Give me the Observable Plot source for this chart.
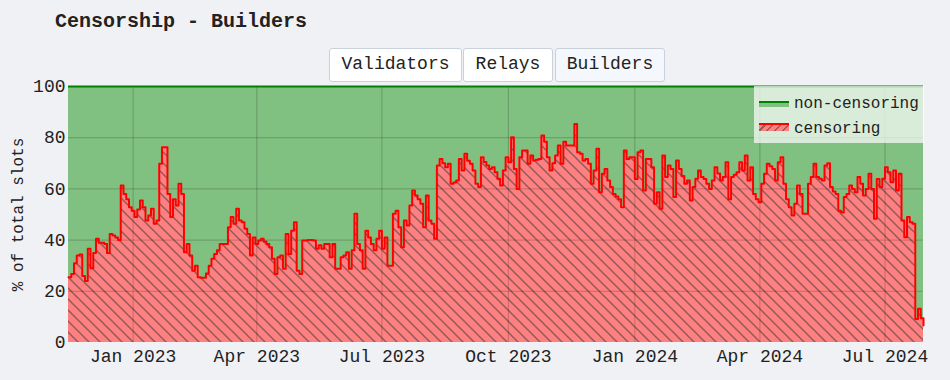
<!DOCTYPE html>
<html>
<head>
<meta charset="utf-8">
<script src="https://cdn.jsdelivr.net/npm/d3@7"></script>
<script src="https://cdn.jsdelivr.net/npm/@observablehq/plot@0.6"></script>
<style>
  html, body { margin: 0; padding: 0; background: #f0f1f5; }
  #wrap { position: relative; width: 950px; height: 380px; font-family: "Liberation Mono", monospace; color: #222; }
  #chart { position: absolute; left: 0; top: 0; }
  #title { position: absolute; left: 55px; top: 12px; font-size: 20px; line-height: 20px; font-weight: bold; white-space: nowrap; }
  .btn { position: absolute; top: 48px; height: 34px; box-sizing: border-box; border: 1px solid #c9d1dc; border-radius: 3px; background: #fff; font-size: 18px; display: flex; align-items: center; justify-content: center; white-space: nowrap; padding-bottom: 2px; }
  .btn.active { background: #f4f7fb; }
  #legend { position: absolute; left: 754px; top: 86px; width: 170px; height: 57px; background: rgba(255,255,255,0.7); font-size: 16px; }
  .lrow { position: absolute; left: 0; height: 20px; width: 170px; }
  .sw { position: absolute; left: 5px; width: 30px; }
  .lt { position: absolute; left: 40px; line-height: 20px; top: 0; white-space: nowrap; }
</style>
</head>
<body>
<div id="wrap">
  <div id="chart"></div>
  <div id="title"></div>
  <div id="buttons"></div>
  <div id="legend"></div>
</div>
<script>
// ---- data ----
const titleText = "Censorship - Builders";
const buttonLabels = ["Validators", "Relays", "Builders"];
const activeButton = "Builders";
const seriesNames = ["non-censoring", "censoring"];
const yLabel = "% of total slots";
const startDate = "2022-11-15";
const stepDays = 2;
// censoring share (% of total slots), one value every 2 days
const censoring = [
  25.5,26.8,31,34,34.4,26,24,36.6,29,35,40.5,39,39,38.5,35,42.4,41.8,41,40,61.3,
  58,56,52.8,51.5,49,52,55.5,52.8,47.7,49.6,52.2,46.4,47.7,69.8,76.3,76.3,58,49,56,53.5,
  62,58,35.3,38.5,34,28,30,25.5,25.3,25.3,27,30,32.7,34.6,36,38.5,38.5,38.5,45,49,
  46.4,52.2,47.7,47,44.4,42.4,34,41,38.5,39.8,40.5,39.5,38.5,37.2,32.7,26.8,33.3,34,28.8,42.4,
  34.6,43.7,47,28,26.8,39.8,39.8,40,40,39.8,36.6,38,36.6,38.5,38.5,33.3,38.5,28.8,28.8,33.3,
  34,35.3,28.8,36,50.3,38.5,36,28.8,43.7,41,38.5,36,40.5,43.7,36.6,41,30,30,50.3,51.5,
  45,37.2,47.7,45.7,53.5,59.4,57.4,56,54.2,45,57.4,47.7,46.4,40.5,69.1,71.7,70,68.5,69.8,62,
  62.5,63.3,71.7,67.2,73.7,71,69.8,67.2,62,60.7,72.4,70.5,69.1,67.8,68.5,66.5,64,61.3,67.2,72.4,
  70.4,80.2,67.8,60,72.4,75,75,69.8,73,71.1,71.4,71.7,80.9,78.4,72.4,67.2,70,73,77,69.8,
  78.4,77,77,77,85.4,74.3,73.7,71.1,71.7,69.8,62,67.2,75.7,58.7,65.9,67.8,63.3,60.7,58,57,
  56,52.8,75,71.7,72.4,72.4,63.9,74.3,75,59.4,71.7,71.7,68.5,54.2,58.7,52.2,73,64.6,69.1,67.8,
  56.8,71.1,67.8,65,62,63.3,55.5,60.7,64,67.2,64.6,63.9,62,60,63.3,68.5,66,63.3,64.6,70.4,
  56,64.6,65.5,66.5,70.4,67.2,73,63.3,68.5,58,56,54.8,62,65.9,69.8,68.8,67.8,63.3,70.4,72.4,
  62,56,52.8,49.6,54.2,61.3,58,50.3,50.3,62,64.6,69.8,64.6,64,63.3,69.1,70,60.7,59,58,
  51.5,50.8,56.8,58,61.3,60,58.7,64.6,62,57.4,60,65.9,60,48.3,63.9,60.7,64,68.5,66.5,62.6,
  67.2,59.4,65.9,47.7,41.1,49,47,46.4,9.2,13.2,9.5,6.6
];
const xTickDates = ["2023-01-01","2023-04-01","2023-07-01","2023-10-01","2024-01-01","2024-04-01","2024-07-01"];
const yTicks = [0, 20, 40, 60, 80, 100];

// ---- build ----
const t0 = new Date(startDate + "T00:00:00Z");
const data = censoring.map((v, i) => ({date: d3.utcDay.offset(t0, i * stepDays), v}));
const xTicks = xTickDates.map(d => new Date(d + "T00:00:00Z"));
const green = "#80c080", red = "#ff8080";

const chart = Plot.plot({
  width: 950, height: 380,
  marginLeft: 68, marginRight: 27, marginTop: 86, marginBottom: 38,
  style: {fontFamily: "'Liberation Mono', monospace", fontSize: "18px", color: "#222", background: "transparent", overflow: "visible"},
  x: {type: "utc", domain: [data[0].date, data[data.length - 1].date], ticks: xTicks, tickFormat: d3.utcFormat("%b %Y"), tickSize: 0, tickPadding: 7, label: null},
  y: {domain: [0, 100], ticks: yTicks, tickSize: 0, tickPadding: 3, label: null},
  marks: [
    Plot.areaY(data, {x: "date", y1: "v", y2: 100, curve: "step-after", fill: green}),
    Plot.areaY(data, {x: "date", y1: 0, y2: "v", curve: "step-after", fill: red}),
    Plot.areaY(data, {x: "date", y1: 0, y2: "v", curve: "step-after", fill: "url(#hatch)"}),
    Plot.ruleX(xTicks, {stroke: "#000", strokeOpacity: 0.2, strokeWidth: 1}),
    Plot.ruleY(yTicks.filter(d => d > 0 && d < 100), {stroke: "#000", strokeOpacity: 0.2, strokeWidth: 1}),
    Plot.ruleY([100], {stroke: "#008000", strokeWidth: 2}),
    Plot.lineY(data, {x: "date", y: "v", curve: "step-after", stroke: "#ff0000", strokeWidth: 2}),
    Plot.text([yLabel], {frameAnchor: "left", textAnchor: "middle", rotate: -90, dx: -51, fontSize: 16, fill: "#222"})
  ]
});

// hatch pattern
const ns = "http://www.w3.org/2000/svg";
const defs = document.createElementNS(ns, "defs");
defs.innerHTML = `<pattern id="hatch" patternUnits="userSpaceOnUse" width="11" height="11">
  <path d="M-1,-1 L12,12 M-1,10 L1,12 M10,-1 L12,1" stroke="#3a3a3a" stroke-opacity="0.55" stroke-width="1.5" fill="none"/>
</pattern>`;
chart.insertBefore(defs, chart.firstChild);
document.getElementById("chart").appendChild(chart);

// title
document.getElementById("title").textContent = titleText;

// buttons
const btnGeom = {Validators: [329, 133], Relays: [463, 90], Builders: [555, 110]};
const bdiv = document.getElementById("buttons");
buttonLabels.forEach(b => {
  const el = document.createElement("div");
  el.className = "btn" + (b === activeButton ? " active" : "");
  el.style.left = btnGeom[b][0] + "px";
  el.style.width = btnGeom[b][1] + "px";
  el.textContent = b;
  bdiv.appendChild(el);
});

// legend
const leg = document.getElementById("legend");
const rows = [
  {name: seriesNames[0], top: 8, sw: `<div class="sw" style="top:7px;height:6px;background:${green};border-top:2px solid #008000;box-sizing:border-box"></div>`},
  {name: seriesNames[1], top: 33, sw: `<div class="sw" style="top:4px;height:8px;box-sizing:border-box;border-top:2px solid #ff0000;background:repeating-linear-gradient(-45deg, ${red} 0px, ${red} 4px, #a05a5a 4px, #a05a5a 5.5px)"></div>`}
];
rows.forEach(r => {
  const row = document.createElement("div");
  row.className = "lrow";
  row.style.top = r.top + "px";
  row.innerHTML = r.sw + `<div class="lt">${r.name}</div>`;
  leg.appendChild(row);
});
</script>
</body>
</html>
